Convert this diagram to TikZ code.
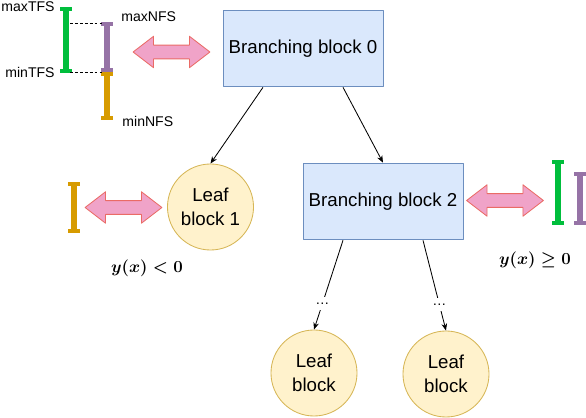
\documentclass[tikz,border=0pt]{standalone}
\usepackage{amsmath,amssymb}
\usepackage{fontspec}
\setmainfont{Liberation Sans}
\usetikzlibrary{arrows.meta,shapes.arrows}
\definecolor{blockblue}{HTML}{DAE8FC}
\definecolor{blockedge}{HTML}{6C8EBF}
\definecolor{leafyellow}{HTML}{FFF2CC}
\definecolor{leafedge}{HTML}{D6B656}
\definecolor{arrowpink}{HTML}{F0A3C8}
\definecolor{arrowedge}{HTML}{EA6B66}
\definecolor{tfsgreen}{HTML}{00BE3C}
\definecolor{nfspurple}{HTML}{9673A6}
\definecolor{nfsorange}{HTML}{D79B00}
\tikzset{
  every picture/.style={line join=round, >={Stealth[length=5pt,width=4pt]}},
  branchblock/.style={draw=blockedge, fill=blockblue, minimum width=4cm, minimum height=1.92cm, font=\fontsize{13.3}{16}\selectfont},
  leafblock/.style={circle, draw=leafedge, fill=leafyellow, minimum size=2.15cm, inner sep=0pt, align=center, font=\fontsize{13.3}{17}\selectfont},
  swaparrow/.style={double arrow, draw=arrowedge, fill=arrowpink, minimum height=1.92cm, double arrow head extend=0.22cm, double arrow tip angle=75, inner xsep=0pt, inner ysep=4.6pt},
  fsbar/.style={line width=4.2pt, {Bar[width=8pt,line width=2.8pt]}-{Bar[width=8pt,line width=2.8pt]}},
  fstag/.style={font=\fontsize{10}{12}\selectfont, inner sep=0pt},
  signtag/.style={font=\fontsize{12.5}{14}\selectfont},
}

\begin{document}
\begin{tikzpicture}[x=0.025cm,y=-0.025cm,line width=0.6pt]
\useasboundingbox (0,0) rectangle (586,418);
\node[branchblock] (b0) at (303,48.5) {Branching block 0};
\node[branchblock] (b2) at (383,201.5) {Branching block 2};
\node[leafblock] (l1) at (210.5,207) {Leaf\\block 1};
\node[leafblock] (la) at (314,373) {Leaf\\block};
\node[leafblock] (lb) at (446,374) {Leaf\\block};
\draw[->] ([xshift=-1cm]b0.south) -- (l1.north);
\draw[->] ([xshift=1cm]b0.south) -- (b2.north);
\draw[->] ([xshift=-1cm]b2.south) -- node[pos=.71,fill=white,fstag,inner sep=4pt] (da) {\dots} (la.north);
\draw[->] ([xshift=1cm]b2.south) -- node[pos=.71,fill=white,fstag,inner sep=4pt] (db) {\dots} (lb.north);
\node[swaparrow] (s0) at (171.5,52) {};
\node[swaparrow] (s1) at (123.5,207.5) {};
\node[swaparrow] (s2) at (505,200.5) {};
\coordinate (tfsmax) at (66,7);
\coordinate (tfsmin) at (66,73);
\coordinate (nfsmax) at (107,22);
\coordinate (nfsmid) at (107,72);
\coordinate (nfsmin) at (107,120);
\draw[fsbar,tfsgreen] (tfsmax) -- (tfsmin);
\draw[fsbar,nfspurple] (nfsmax) -- (nfsmid);
\draw[fsbar,nfsorange] (nfsmid) -- (nfsmin);
\draw[thin,dash pattern=on 2pt off 1.5pt] (tfsmax |- nfsmax) ++(4,1) -- ([xshift=-0.1cm,yshift=-0.025cm]nfsmax);
\draw[thin,dash pattern=on 2pt off 1.5pt] (tfsmin |- nfsmid) ++(4,0) -- ([xshift=-0.1cm]nfsmid);
\node[fstag,anchor=east] (maxt) at (55,7) {maxTFS};
\node[fstag,anchor=east] (mint) at (55,72) {minTFS};
\node[fstag,anchor=west] (maxn) at (121,17) {maxNFS};
\node[fstag,anchor=west] (minn) at (122,121) {minNFS};
\coordinate (lefttop) at (74,182);
\coordinate (leftbot) at (74,233);
\draw[fsbar,nfsorange] (lefttop) -- (leftbot);
\coordinate (righttop) at (558,160);
\coordinate (rightbot) at (558,225);
\draw[fsbar,tfsgreen] (righttop) -- (rightbot);
\coordinate (farttop) at (580,172);
\coordinate (fartbot) at (580,225);
\draw[fsbar,nfspurple] (farttop) -- (fartbot);
\node[signtag] (neg) at (147,268) {$\boldsymbol{y(x) < 0}$};
\node[signtag] (pos) at (535,260) {$\boldsymbol{y(x) \geq 0}$};
\end{tikzpicture}
\end{document}
